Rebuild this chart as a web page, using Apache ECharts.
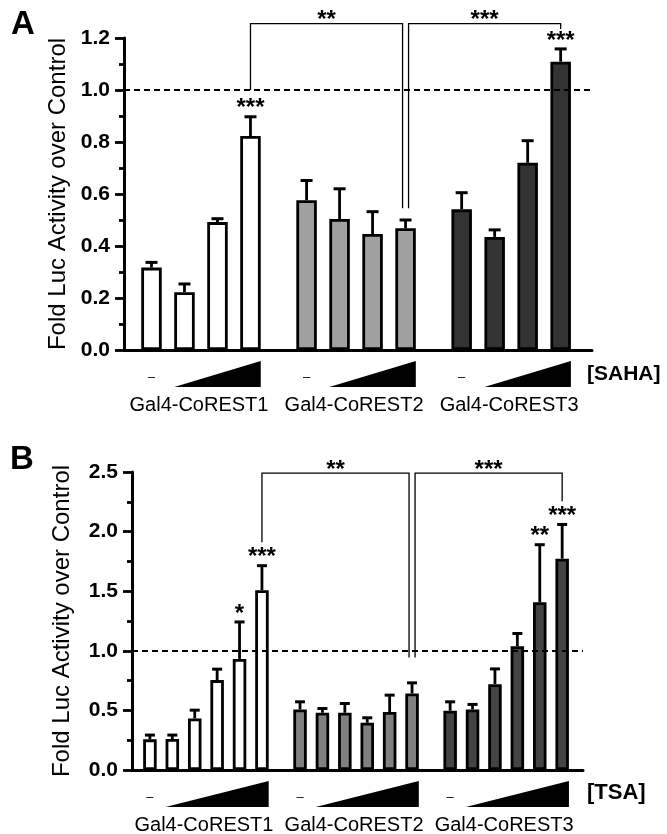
<!DOCTYPE html>
<html>
<head>
<meta charset="utf-8">
<script src="https://cdn.jsdelivr.net/npm/echarts@6/dist/echarts.min.js"></script>
<style>
  html, body { margin: 0; padding: 0; background: #fff; }
  #chart { width: 667px; height: 834px; }
</style>
</head>
<body>
<div id="chart"></div>
<script>
const groupNames = ['Gal4-CoREST1', 'Gal4-CoREST2', 'Gal4-CoREST3']

// panel A: SAHA, 4 doses per construct (first = no drug)
const sahaMean = [
  [0.317, 0.222, 0.492, 0.823],
  [0.576, 0.504, 0.446, 0.468],
  [0.541, 0.435, 0.720, 1.109]
]
const sahaErr = [
  [0.020, 0.032, 0.013, 0.074],
  [0.076, 0.116, 0.086, 0.032],
  [0.064, 0.027, 0.085, 0.049]
]
const sahaStars = [
  ['', '', '', '***'],
  ['', '', '', ''],
  ['', '', '', '***']
]
const sahaBrackets = [
  { from: [0, 3], to: [1, 3], top: 1.255, ends: [1.0, 0.545], label: '**' },
  { from: [1, 3], to: [2, 3], top: 1.255, ends: [0.545, 1.235], label: '***' }
]
const sahaTicks = [0, 1.2, 0.2]

// panel B: TSA, 6 doses per construct
const tsaMean = [
  [0.257, 0.260, 0.433, 0.754, 0.932, 1.508],
  [0.508, 0.480, 0.480, 0.396, 0.486, 0.642],
  [0.497, 0.508, 0.720, 1.038, 1.407, 1.773]
]
const tsaErr = [
  [0.036, 0.033, 0.069, 0.092, 0.310, 0.206],
  [0.064, 0.036, 0.078, 0.042, 0.142, 0.089],
  [0.075, 0.042, 0.128, 0.107, 0.483, 0.287]
]
const tsaStars = [
  ['', '', '', '', '*', '***'],
  ['', '', '', '', '', ''],
  ['', '', '', '', '**', '***']
]
const tsaBrackets = [
  { from: [0, 5], to: [1, 5], top: 2.49, ends: [1.91, 0.944], label: '**' },
  { from: [1, 5], to: [2, 5], top: 2.49, ends: [0.944, 2.255], label: '***' }
]
const tsaTicks = [0, 2.5, 0.5]

const FONT = '"Liberation Sans", Arial, Helvetica, sans-serif'
const BLACK = '#000'
const STAR_FONT = 'bold 24px ' + FONT

function buildPanel (p, mean, err, stars, brackets, colors, cfg) {
  const n = mean[0].length
  const step = n + cfg.gap
  const bars = []
  const errs = []
  const starList = []
  mean.forEach((vals, g) => {
    vals.forEach((v, i) => {
      const x = g * step + i
      bars.push({ value: [x, v], itemStyle: { color: colors[g] } })
      errs.push([x, v, err[g][i]])
      starList.push(stars[g][i])
    })
  })
  const bracketData = brackets.map(b => [
    b.from[0] * step + b.from[1], b.to[0] * step + b.to[1], b.top, b.ends[0], b.ends[1]
  ])
  const groupData = groupNames.map((name, g) => [g * step, g * step + n - 1])

  return [
    {
      type: 'line',
      xAxisIndex: p,
      yAxisIndex: p,
      data: [],
      z: 1,
      markLine: {
        silent: true,
        symbol: 'none',
        label: { show: false },
        lineStyle: { color: BLACK, type: [6, 4], width: 2 },
        data: [{ yAxis: 1 }]
      }
    },
    {
      type: 'bar',
      xAxisIndex: p,
      yAxisIndex: p,
      data: bars,
      barWidth: cfg.barW,
      itemStyle: { borderColor: BLACK, borderWidth: 2.8 },
      z: 2
    },
    {
      type: 'custom',
      xAxisIndex: p,
      yAxisIndex: p,
      data: errs,
      clip: false,
      z: 3,
      renderItem (params, api) {
        const x = api.value(0)
        const m = api.value(1)
        const e = api.value(2)
        const base = api.coord([x, m])
        const top = api.coord([x, m + e])
        const cw = cfg.capW / 2
        const children = [
          { type: 'line', shape: { x1: base[0], y1: base[1], x2: top[0], y2: top[1] }, style: { stroke: BLACK, lineWidth: 2.8 } },
          { type: 'line', shape: { x1: top[0] - cw, y1: top[1], x2: top[0] + cw, y2: top[1] }, style: { stroke: BLACK, lineWidth: 3 } }
        ]
        const s = starList[params.dataIndex]
        if (s) {
          children.push({
            type: 'text',
            style: { text: s, x: top[0], y: top[1] - 8, align: 'center', verticalAlign: 'middle', font: STAR_FONT, fill: BLACK }
          })
        }
        return { type: 'group', children }
      }
    },
    {
      type: 'custom',
      xAxisIndex: p,
      yAxisIndex: p,
      data: bracketData,
      clip: false,
      z: 4,
      renderItem (params, api) {
        const i = params.dataIndex
        const a = api.coord([api.value(0), api.value(3)])
        const b = api.coord([api.value(1), api.value(4)])
        const t = api.coord([0, api.value(2)])[1]
        const ax = a[0] + (i === 1 ? 3 : 0)
        const bx = b[0] - (i === 0 ? 3 : 0)
        return {
          type: 'group',
          children: [
            { type: 'polyline', shape: { points: [[ax, a[1]], [ax, t], [bx, t], [bx, b[1]]] }, style: { stroke: BLACK, lineWidth: 1.3, fill: null } },
            { type: 'text', style: { text: brackets[i].label, x: (ax + bx) / 2, y: t - 3, align: 'center', verticalAlign: 'middle', font: STAR_FONT, fill: BLACK } }
          ]
        }
      }
    },
    {
      type: 'custom',
      xAxisIndex: p,
      yAxisIndex: p,
      data: groupData,
      clip: false,
      z: 4,
      renderItem (params, api) {
        const first = api.coord([api.value(0), 0])
        const second = api.coord([api.value(0) + 1, 0])
        const last = api.coord([api.value(1), 0])
        const y0 = first[1]
        const half = cfg.barW / 2
        return {
          type: 'group',
          children: [
            { type: 'text', style: { text: '–', x: first[0], y: y0 + 27, align: 'center', verticalAlign: 'middle', font: '13px ' + FONT, fill: BLACK } },
            { type: 'polygon', shape: { points: [[second[0] - half, y0 + 37], [last[0] + half, y0 + 37], [last[0] + half, y0 + 11]] }, style: { fill: BLACK } },
            { type: 'text', style: { text: groupNames[params.dataIndex], x: (first[0] + last[0]) / 2 - 2, y: y0 + 55, align: 'center', verticalAlign: 'middle', font: '20px ' + FONT, fill: BLACK } }
          ]
        }
      }
    }
  ]
}

function xAxisFor (p, min, max) {
  return {
    gridIndex: p,
    type: 'value',
    min,
    max,
    axisLine: { show: true, onZero: false, lineStyle: { color: BLACK, width: 3 } },
    axisTick: { show: false },
    axisLabel: { show: false },
    splitLine: { show: false }
  }
}

function yAxisFor (p, ticks, gap) {
  return {
    gridIndex: p,
    type: 'value',
    min: ticks[0],
    max: ticks[1],
    interval: ticks[2],
    name: 'Fold Luc Activity over Control',
    nameLocation: 'middle',
    nameGap: gap,
    nameTextStyle: { color: BLACK, fontSize: 24, fontFamily: FONT },
    axisLine: { show: true, onZero: false, lineStyle: { color: BLACK, width: 3 } },
    axisTick: { show: true, length: 9, lineStyle: { color: BLACK, width: 2.8 } },
    minorTick: { show: true, splitNumber: 2, length: 5, lineStyle: { color: BLACK, width: 2.8 } },
    axisLabel: { color: BLACK, fontSize: 21, fontWeight: 'bold', fontFamily: FONT, margin: 14, formatter: v => v.toFixed(1) },
    splitLine: { show: false },
    minorSplitLine: { show: false }
  }
}

const chart = echarts.init(document.getElementById('chart'), null, { renderer: 'canvas' })

const option = {
  animation: false,
  backgroundColor: '#fff',
  grid: [
    { left: 124, top: 38, width: 468, height: 312 },
    { left: 132, top: 472, width: 451, height: 298 }
  ],
  xAxis: [xAxisFor(0, -0.833, 13.35), xAxisFor(1, -0.80, 19.33)],
  yAxis: [yAxisFor(0, sahaTicks, 50), yAxisFor(1, tsaTicks, 58)],
  graphic: [
    { type: 'text', left: 11, top: 8, style: { text: 'A', font: 'bold 33px ' + FONT, fill: BLACK } },
    { type: 'text', left: 10, top: 443, style: { text: 'B', font: 'bold 33px ' + FONT, fill: BLACK } },
    { type: 'text', left: 587, top: 364, style: { text: '[SAHA]', font: 'bold 21px ' + FONT, fill: BLACK } },
    { type: 'text', left: 587, top: 782, style: { text: '[TSA]', font: 'bold 22px ' + FONT, fill: BLACK } }
  ],
  series: [
    ...buildPanel(0, sahaMean, sahaErr, sahaStars, sahaBrackets, ['#ffffff', '#a0a0a0', '#333333'], { gap: 0.7, barW: 20.5, capW: 12 }),
    ...buildPanel(1, tsaMean, tsaErr, tsaStars, tsaBrackets, ['#ffffff', '#808080', '#444444'], { gap: 0.7, barW: 13.5, capW: 10 })
  ]
}

chart.setOption(option)
</script>
</body>
</html>
